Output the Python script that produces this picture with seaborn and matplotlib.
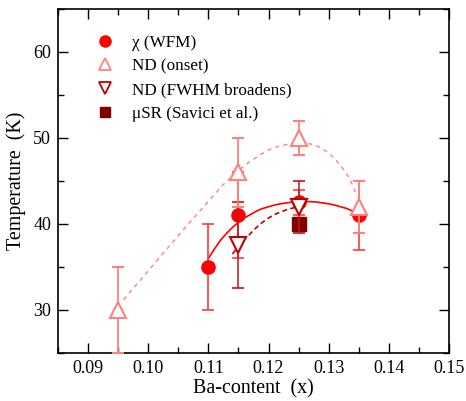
import numpy as np
import pandas as pd
import matplotlib
matplotlib.use("Agg")
import matplotlib.pyplot as plt
from matplotlib.lines import Line2D
from matplotlib.ticker import MultipleLocator
import seaborn as sns

# ---- data ----
chi_x = [0.110, 0.115, 0.125, 0.135]
chi_T = [35.0, 41.0, 42.5, 41.0]
chi_err = [5.0, 5.0, 1.5, 4.0]

onset_x = [0.095, 0.115, 0.125, 0.135]
onset_T = [30.0, 46.0, 50.0, 42.0]
onset_err = [5.0, 4.0, 2.0, 3.0]

fwhm_x = [0.115, 0.125]
fwhm_T = [37.5, 42.0]
fwhm_err = [5.0, 3.0]

musr_x = [0.125]
musr_T = [40.0]

# guide-to-the-eye curves
chi_curve_x = [0.1100, 0.1110, 0.1120, 0.1130, 0.1140, 0.1150, 0.1160, 0.1170, 0.1180,
               0.1190, 0.1200, 0.1210, 0.1220, 0.1230, 0.1240, 0.1250, 0.1260, 0.1270,
               0.1280, 0.1290, 0.1300, 0.1310, 0.1320, 0.1330, 0.1340, 0.1350]
chi_curve_T = [36.0, 37.1, 38.1, 38.9, 39.6, 40.2, 40.7, 41.1, 41.5,
               41.8, 42.0, 42.2, 42.35, 42.45, 42.55, 42.6, 42.6, 42.6,
               42.55, 42.45, 42.35, 42.2, 42.0, 41.8, 41.5, 41.2]

onset_curve_x = [0.0959, 0.0992, 0.1025, 0.1058, 0.1092, 0.1125, 0.1150, 0.1166, 0.1185,
                 0.1200, 0.1215, 0.1233, 0.1255, 0.1270, 0.1283, 0.1297, 0.1310, 0.1322,
                 0.1333, 0.1341, 0.1347]
onset_curve_T = [31.2, 33.9, 36.6, 39.3, 42.0, 44.6, 46.2, 47.1, 48.0,
                 48.6, 49.0, 49.3, 49.4, 49.3, 49.0, 48.4, 47.6, 46.6,
                 45.5, 44.3, 43.2]

fwhm_curve_x = [0.1140, 0.1150, 0.1160, 0.1170, 0.1180, 0.1190, 0.1200, 0.1210, 0.1220,
                0.1230, 0.1240, 0.1250]
fwhm_curve_T = [36.5, 37.4, 38.2, 38.9, 39.6, 40.2, 40.7, 41.1, 41.4,
                41.65, 41.85, 42.0]

labels = ["\u03c7 (WFM)", "ND (onset)", "ND (FWHM broadens)", "\u03bcSR (Savici et al.)"]
xticks = [0.09, 0.10, 0.11, 0.12, 0.13, 0.14, 0.15]

# ---- style ----
sns.set_style("ticks", {"axes.edgecolor": "black", "xtick.color": "black",
                        "ytick.color": "black", "text.color": "black",
                        "axes.labelcolor": "black"})
plt.rcParams["font.family"] = ["Liberation Serif", "DejaVu Serif"]

c_chi = "#ff0000"
c_onset = "#ff8080"
c_fwhm = "#c00000"
c_musr = "#800000"

fig = plt.figure(figsize=(4.66, 4.01), dpi=100)
ax = fig.add_axes([0.1245, 0.1197, 0.839, 0.858])

# curves
sns.lineplot(x=onset_curve_x, y=onset_curve_T, ax=ax, color=c_onset, lw=1.0,
             linestyle=(0, (3, 3)), sort=False, estimator=None, zorder=1)
sns.lineplot(x=chi_curve_x, y=chi_curve_T, ax=ax, color=c_chi, lw=1.2,
             sort=False, estimator=None, zorder=1)
sns.lineplot(x=fwhm_curve_x, y=fwhm_curve_T, ax=ax, color=c_fwhm, lw=1.2,
             linestyle=(0, (3, 2)), sort=False, estimator=None, zorder=1)

# error bars + markers
ax.errorbar(musr_x, musr_T, fmt="s", ms=9.5, color=c_musr, mec=c_musr, zorder=3)
ax.errorbar(chi_x, chi_T, yerr=chi_err, fmt="o", ms=9.5, color=c_chi,
            ecolor=(1, 0.2, 0.2, 0.9), elinewidth=1.3, capsize=4.5, capthick=1.3, zorder=3)
ax.errorbar(fwhm_x, fwhm_T, yerr=fwhm_err, fmt="v", ms=11.5, mfc="white", mec=c_fwhm, mew=1.5,
            ecolor=(0.75, 0.1, 0.1, 0.85), elinewidth=1.3, capsize=4.5, capthick=1.3, zorder=4)
ax.errorbar(onset_x, onset_T, yerr=onset_err, fmt="^", ms=11.5, mfc="white", mec=c_onset, mew=1.5,
            ecolor=c_onset, elinewidth=1.3, capsize=4.5, capthick=1.3, zorder=5)

ax.set_xlim(0.085, 0.15)
ax.set_ylim(25, 65)
ax.set_xticks(xticks)
ax.set_xticklabels([f"{v:.2f}" for v in xticks])
ax.xaxis.set_minor_locator(MultipleLocator(0.005))
ax.yaxis.set_major_locator(MultipleLocator(10))
ax.yaxis.set_minor_locator(MultipleLocator(5))
ax.tick_params(which="both", direction="in", top=True, right=True, labelsize=13,
               width=1.0, color="black", labelcolor="black")
ax.tick_params(which="major", length=7, pad=5)
ax.tick_params(which="minor", length=4)
for s in ax.spines.values():
    s.set_linewidth(1.2)
    s.set_color("black")

ax.set_xlabel("Ba-content  (x)", fontsize=14.4, labelpad=2)
ax.set_ylabel("Temperature  (K)", fontsize=14.4, labelpad=5)

handles = [
    Line2D([], [], ls="none", marker="o", ms=8, color=c_chi),
    Line2D([], [], ls="none", marker="^", ms=9, mfc="white", mec=c_onset, mew=1.3),
    Line2D([], [], ls="none", marker="v", ms=9, mfc="white", mec=c_fwhm, mew=1.3),
    Line2D([], [], ls="none", marker="s", ms=7.5, color=c_musr),
]
ax.legend(handles, labels, loc="upper left", bbox_to_anchor=(0.058, 0.945), frameon=False,
          fontsize=12.3, handletextpad=0.6, labelspacing=0.45, borderaxespad=0)

fig.savefig("out.png", dpi=100)
